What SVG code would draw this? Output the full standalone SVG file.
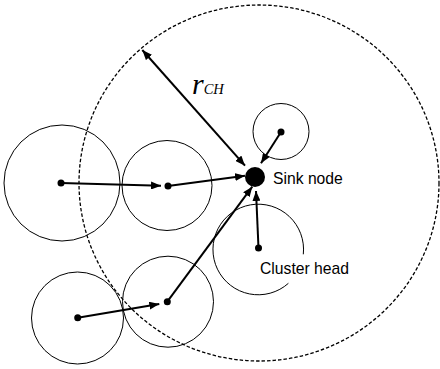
<svg xmlns="http://www.w3.org/2000/svg" width="440" height="369" viewBox="0 0 440 369">
<style>
.rng{fill:none;stroke:#000;stroke-width:1}
.dot{fill:#000}
.lbl{font-family:"Liberation Sans",Arial,sans-serif;font-size:15.7px;fill:#000}
.ar{stroke:#000;stroke-width:2;fill:none;marker-end:url(#ah)}
</style>
<defs>
<marker id="ah" viewBox="0 0 10 8" markerWidth="10" markerHeight="8" refX="10" refY="4" orient="auto-start-reverse" markerUnits="userSpaceOnUse">
<path d="M0,0 L10,4 L0,8 z" fill="#000"/>
</marker>
</defs>
<ellipse id="range" cx="259" cy="183" rx="180" ry="178" fill="none" stroke="#000" stroke-width="1.3" stroke-dasharray="3.5,2"/>
<g id="n1"><circle class="rng" cx="62" cy="183" r="58"/><circle class="dot" cx="61" cy="183" r="3.5"/></g>
<g id="n2"><circle class="rng" cx="167" cy="185.5" r="45"/><circle class="dot" cx="168" cy="186" r="3.5"/></g>
<g id="n3"><circle class="rng" cx="77.5" cy="318" r="46" stroke-width="1.3"/><circle class="dot" cx="77.7" cy="317.7" r="3.5"/></g>
<g id="n4"><circle class="rng" cx="168" cy="301.7" r="45.5"/><circle class="dot" cx="167.3" cy="301.7" r="3.5"/></g>
<g id="n5"><circle class="rng" cx="281" cy="131.5" r="28"/><circle class="dot" cx="281" cy="132" r="3.5"/></g>
<g id="ch"><path class="rng" d="M303.3,254.3 A45.3,45.3 0 1 0 288.4,283.3"/><circle class="dot" cx="258.5" cy="248" r="3.5"/><text class="lbl" x="260" y="274">Cluster head</text></g>
<g id="sink"><circle class="dot" cx="255" cy="177" r="10"/><text class="lbl" x="273" y="183.5">Sink node</text></g>
<g id="radius-label"><text x="192" y="94" font-family="'Liberation Serif','Times New Roman',serif" font-style="italic" fill="#000"><tspan font-size="30">r</tspan><tspan font-size="14.5">CH</tspan></text></g>
<g id="connectors">
<line class="ar" x1="142.3" y1="50" x2="245" y2="165.7" style="marker-start:url(#ah)"/>
<line class="ar" x1="281" y1="132" x2="261" y2="163.3"/>
<line class="ar" x1="61" y1="183" x2="161" y2="185.7"/>
<line class="ar" x1="168" y1="186" x2="245" y2="175.7"/>
<line class="ar" x1="167.3" y1="301.7" x2="252.3" y2="186.7"/>
<line class="ar" x1="258.5" y1="248" x2="256" y2="191"/>
<line class="ar" x1="77.7" y1="317.7" x2="159.3" y2="304"/>
</g>
</svg>
